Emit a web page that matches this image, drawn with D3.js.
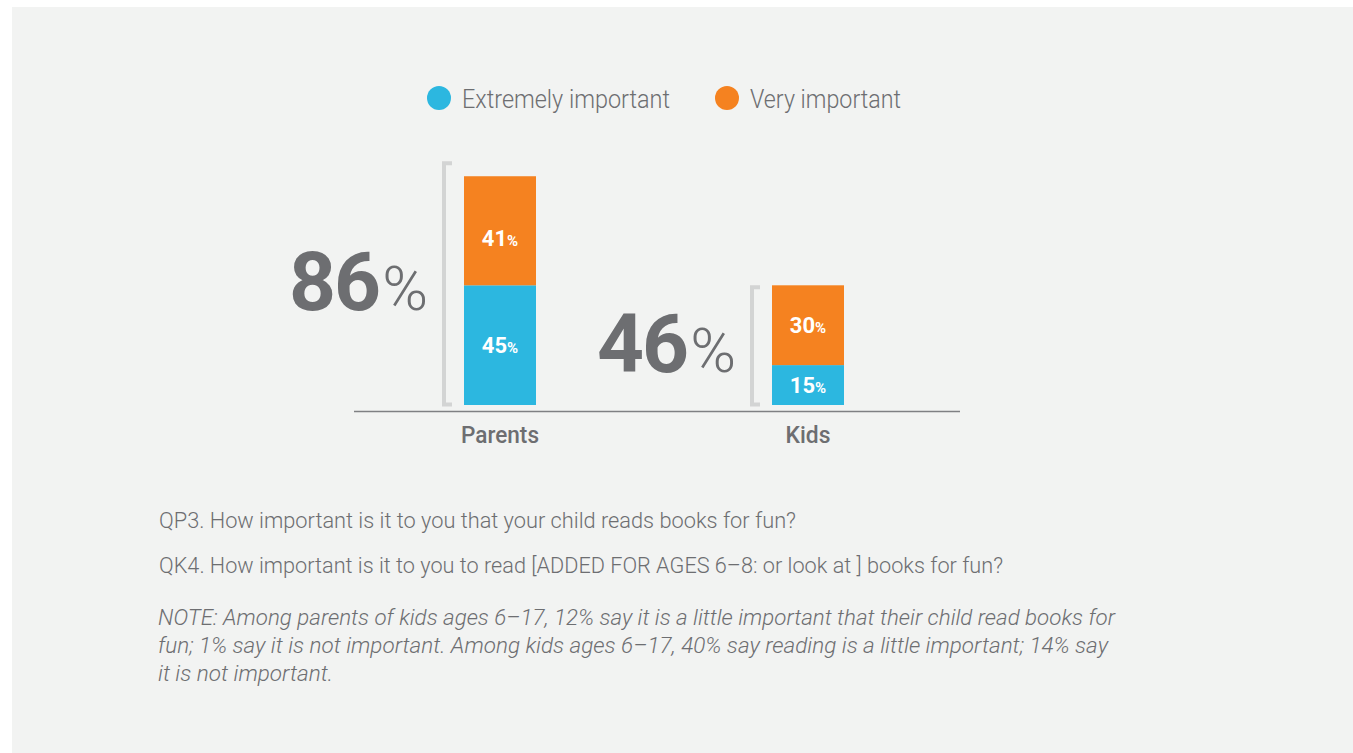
<!DOCTYPE html>
<html>
<head>
<meta charset="utf-8">
<script src="https://cdn.jsdelivr.net/npm/d3@7"></script>
<style>
  html, body { margin: 0; padding: 0; background: #ffffff; }
  svg { display: block; }
</style>
</head>
<body>
<svg id="chart" width="1353" height="753"></svg>
<script>
// ---- data ----
const groups = ["Parents", "Kids"];
const extremely = [45, 15];
const very = [41, 30];
const totals = [86, 46];
const seriesNames = ["Extremely important", "Very important"];
const seriesColors = ["#2cb7e0", "#f58220"];
const footQuestions = [
  "QP3. How important is it to you that your child reads books for fun?",
  "QK4. How important is it to you to read [ADDED FOR AGES 6–8: or look at ] books for fun?"
];
const noteLines = [
  "NOTE: Among parents of kids ages 6–17, 12% say it is a little important that their child read books for",
  "fun; 1% say it is not important. Among kids ages 6–17, 40% say reading is a little important; 14% say",
  "it is not important."
];

// ---- layout ----
const svg = d3.select("#chart");
const textGray = "#6d6e71";
const font = "Roboto, 'Noto Sans', sans-serif";

svg.append("rect").attr("x", 12).attr("y", 7).attr("width", 1353 - 12).attr("height", 753 - 7)
  .attr("fill", "#f2f3f2");

const x = d3.scalePoint().domain(groups).range([346, 962]).padding(0.5);
const y = d3.scaleLinear().domain([0, 100]).range([405, 139]);
const barW = 72;

// baseline
svg.append("line").attr("x1", 354).attr("x2", 960).attr("y1", 411.5).attr("y2", 411.5)
  .attr("stroke", "#7f8083").attr("stroke-width", 1.5);

// stacked data
const stackData = groups.map((g, i) => ({ group: g, e: extremely[i], v: very[i], total: totals[i] }));
const stack = d3.stack().keys(["e", "v"]);
const layers = stack(stackData);

layers.forEach((layer, li) => {
  const g = svg.append("g");
  g.selectAll("rect").data(layer).enter().append("rect")
    .attr("x", d => x(d.data.group) - barW / 2)
    .attr("y", d => y(d[1]))
    .attr("width", barW)
    .attr("height", d => y(d[0]) - y(d[1]))
    .attr("fill", seriesColors[li]);
  const t = g.selectAll("text").data(layer).enter().append("text")
    .attr("x", d => x(d.data.group))
    .attr("y", d => (y(d[0]) + y(d[1])) / 2 + 8 + (li === 1 && d.data.group === "Parents" ? 7 : 0))
    .attr("text-anchor", "middle")
    .attr("fill", "#ffffff")
    .attr("font-family", font)
    .attr("font-weight", 700);
  t.append("tspan").attr("font-size", 22).text(d => d[1] - d[0]);
  t.append("tspan").attr("font-size", 15).text("%");
});

// brackets and big totals
const bracketPad = [13, -2];
stackData.forEach((d, i) => {
  const bx = x(d.group) - barW / 2 - 20;
  const top = y(d.e + d.v) - bracketPad[i];
  const bottom = 404.5;
  svg.append("path")
    .attr("d", `M${bx + 8},${top} H${bx} V${bottom} H${bx + 8}`)
    .attr("fill", "none").attr("stroke", "#d3d4d4").attr("stroke-width", 4);
  const tt = svg.append("text")
    .attr("x", bx - 16)
    .attr("y", (top + bottom) / 2 + 26)
    .attr("text-anchor", "end")
    .attr("fill", textGray)
    .attr("font-family", font);
  tt.append("tspan").attr("font-size", 82).attr("font-weight", 700).attr("letter-spacing", -2).text(d.total);
  tt.append("tspan").attr("font-size", 62).attr("font-weight", 300).attr("dx", 3).text("%");
});

// category labels
const catWidths = [78, 45];
svg.selectAll(".cat").data(groups).enter().append("text")
  .attr("x", d => x(d))
  .attr("y", 443)
  .attr("text-anchor", "middle")
  .attr("fill", textGray)
  .attr("font-family", font)
  .attr("font-weight", 500)
  .attr("font-size", 23)
  .attr("textLength", (d, i) => catWidths[i])
  .attr("lengthAdjust", "spacingAndGlyphs")
  .text(d => d);

// legend
const legX = [439, 727];
const legW = [208, 151];
seriesNames.forEach((n, i) => {
  svg.append("circle").attr("cx", legX[i]).attr("cy", 98).attr("r", 12).attr("fill", seriesColors[i]);
  svg.append("text").attr("x", legX[i] + 23).attr("y", 108)
    .attr("fill", textGray).attr("font-family", font).attr("font-weight", 300)
    .attr("font-size", 25)
    .attr("textLength", legW[i]).attr("lengthAdjust", "spacingAndGlyphs")
    .text(n);
});

// footnotes
const qW = [637, 844];
const qY = [528, 573];
footQuestions.forEach((q, i) => {
  svg.append("text").attr("x", 159).attr("y", qY[i])
    .attr("fill", textGray).attr("font-family", font).attr("font-weight", 300)
    .attr("font-size", 22.5)
    .attr("textLength", qW[i]).attr("lengthAdjust", "spacingAndGlyphs")
    .text(q);
});
const nW = [957, 950, 175];
const nY = [625, 653, 681];
noteLines.forEach((l, i) => {
  svg.append("text").attr("x", 158).attr("y", nY[i])
    .attr("fill", textGray).attr("font-family", font).attr("font-weight", 300)
    .attr("font-style", "italic")
    .attr("font-size", 22.5)
    .attr("textLength", nW[i]).attr("lengthAdjust", "spacingAndGlyphs")
    .text(l);
});
</script>
</body>
</html>
